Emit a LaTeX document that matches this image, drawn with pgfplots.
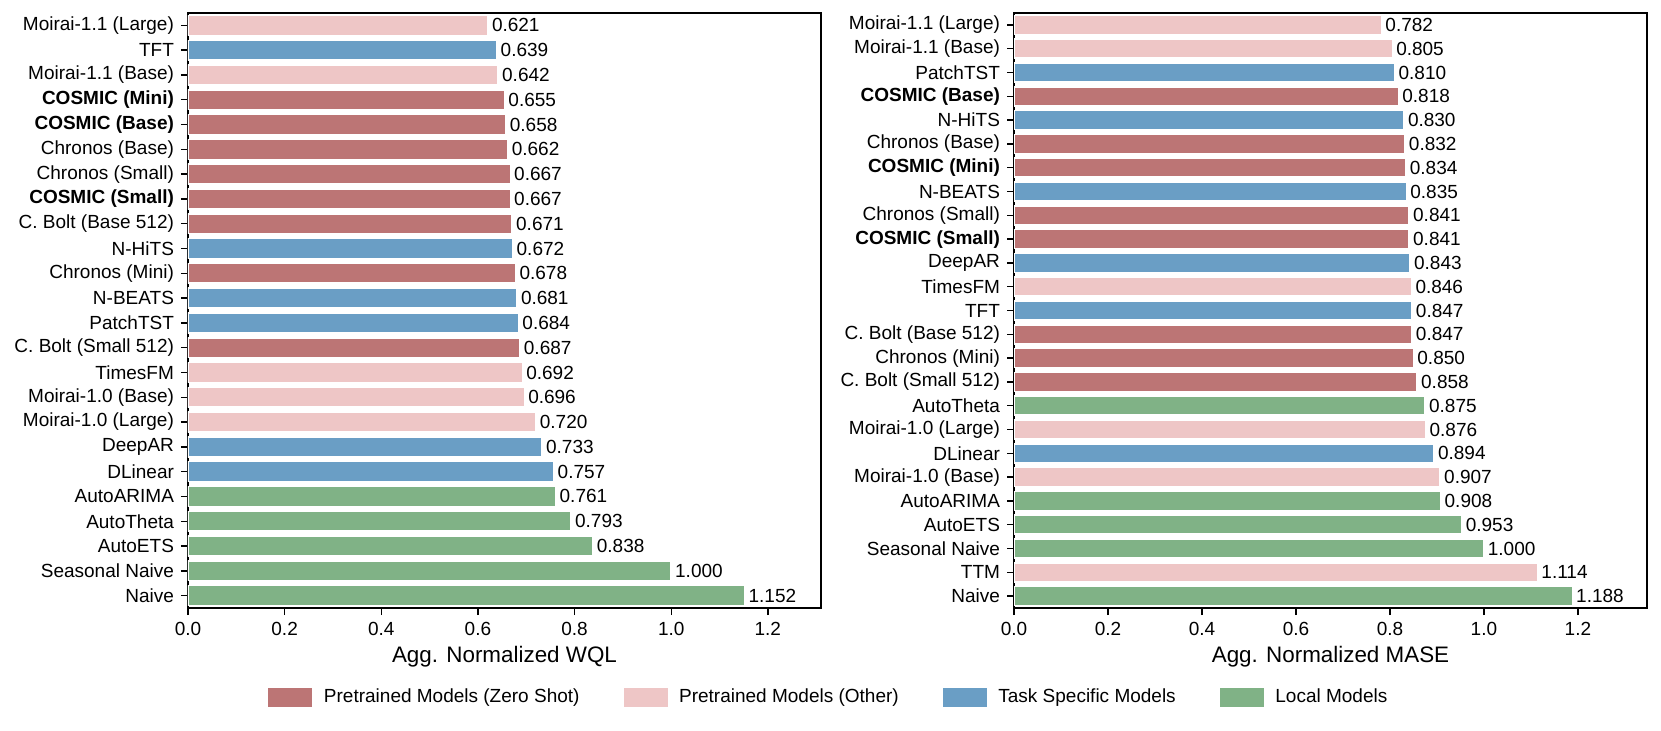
\documentclass[border=0pt]{standalone}
\usepackage{fontspec}
\setmainfont{Liberation Sans}
\usepackage{pgfplots}
\pgfplotsset{compat=1.18}
\definecolor{zs}{RGB}{188,117,117}
\definecolor{ot}{RGB}{238,198,198}
\definecolor{ts}{RGB}{106,158,197}
\definecolor{lo}{RGB}{128,178,134}
\pgfplotsset{
  /pgf/number format/assume math mode=true,
  mybar/.style={xbar, bar width=0.8, bar shift=0pt, draw=white, line width=0.75pt,
    legend image code/.code={\path[##1,draw=none] (0pt,-4.75pt) rectangle (22pt,4.75pt);
      \path[draw=none,fill=none] (0pt,0pt) -- (25.8pt,0pt);}},
  myax/.style={
    anchor=south west, scale only axis, width=316.5pt, height=297.5pt,
    xmin=0, y dir=reverse,
    axis line style={line width=0.9pt},
    tick style={line width=0.7pt, black},
    major tick length=3.5pt, tick align=outside,
    xtick pos=bottom, ytick pos=left,
    xtick={0,0.2,0.4,0.6,0.8,1.0,1.2},
    xticklabel style={/pgf/number format/.cd, fixed, fixed zerofill, precision=1},
    tick label style={font=\fontsize{9.5pt}{11pt}\selectfont},
    label style={font=\fontsize{11.2pt}{13pt}\selectfont},
    xlabel style={at={(axis description cs:0.5,-0.082)}, anchor=center},
    point meta=x,
    nodes near coords={\pgfmathprintnumber[fixed,fixed zerofill,precision=3]{\pgfplotspointmeta}},
    every node near coord/.append style={font=\fontsize{9.5pt}{11pt}\selectfont, text=black, inner sep=1.6pt, anchor=west},
  }
}
\begin{document}
\begin{tikzpicture}[x=1pt,y=1pt]
\useasboundingbox (0,0) rectangle (830.5,365);
\begin{axis}[myax, at={(94pt,61pt)}, xmax=1.31, ymin=-0.5, ymax=23.5,
  ytick={0,...,23},
  yticklabels={Moirai-1.1 (Large),TFT,Moirai-1.1 (Base),{\textbf{COSMIC (Mini)}},{\textbf{COSMIC (Base)}},Chronos (Base),Chronos (Small),{\textbf{COSMIC (Small)}},C. Bolt (Base 512),N-HiTS,Chronos (Mini),N-BEATS,PatchTST,C. Bolt (Small 512),TimesFM,Moirai-1.0 (Base),Moirai-1.0 (Large),DeepAR,DLinear,AutoARIMA,AutoTheta,AutoETS,Seasonal Naive,Naive},
  xlabel={Agg. Normalized WQL},
  legend columns=4,
  legend style={at={(1.014,-0.15)}, anchor=center, draw=none, fill=none,
    font=\fontsize{9.5pt}{11pt}\selectfont,
    /tikz/every even column/.append style={column sep=20pt}},
]
\addplot[mybar, fill=zs] coordinates {(0.655,3) (0.658,4) (0.662,5) (0.667,6) (0.667,7) (0.671,8) (0.678,10) (0.687,13)};
\addlegendentry{Pretrained Models (Zero Shot)}
\addplot[mybar, fill=ot] coordinates {(0.621,0) (0.642,2) (0.692,14) (0.696,15) (0.720,16)};
\addlegendentry{Pretrained Models (Other)}
\addplot[mybar, fill=ts] coordinates {(0.639,1) (0.672,9) (0.681,11) (0.684,12) (0.733,17) (0.757,18)};
\addlegendentry{Task Specific Models}
\addplot[mybar, fill=lo] coordinates {(0.761,19) (0.793,20) (0.838,21) (1.000,22) (1.152,23)};
\addlegendentry{Local Models}
\end{axis}
\begin{axis}[myax, at={(507pt,61pt)}, xmax=1.347, ymin=-0.5, ymax=24.5,
  ytick={0,...,24},
  yticklabels={Moirai-1.1 (Large),Moirai-1.1 (Base),PatchTST,{\textbf{COSMIC (Base)}},N-HiTS,Chronos (Base),{\textbf{COSMIC (Mini)}},N-BEATS,Chronos (Small),{\textbf{COSMIC (Small)}},DeepAR,TimesFM,TFT,C. Bolt (Base 512),Chronos (Mini),C. Bolt (Small 512),AutoTheta,Moirai-1.0 (Large),DLinear,Moirai-1.0 (Base),AutoARIMA,AutoETS,Seasonal Naive,TTM,Naive},
  xlabel={Agg. Normalized MASE},
]
\addplot[mybar, fill=zs] coordinates {(0.818,3) (0.832,5) (0.834,6) (0.841,8) (0.841,9) (0.847,13) (0.850,14) (0.858,15)};
\addplot[mybar, fill=ot] coordinates {(0.782,0) (0.805,1) (0.846,11) (0.876,17) (0.907,19) (1.114,23)};
\addplot[mybar, fill=ts] coordinates {(0.810,2) (0.830,4) (0.835,7) (0.843,10) (0.847,12) (0.894,18)};
\addplot[mybar, fill=lo] coordinates {(0.875,16) (0.908,20) (0.953,21) (1.000,22) (1.188,24)};
\end{axis}
\end{tikzpicture}
\end{document}
